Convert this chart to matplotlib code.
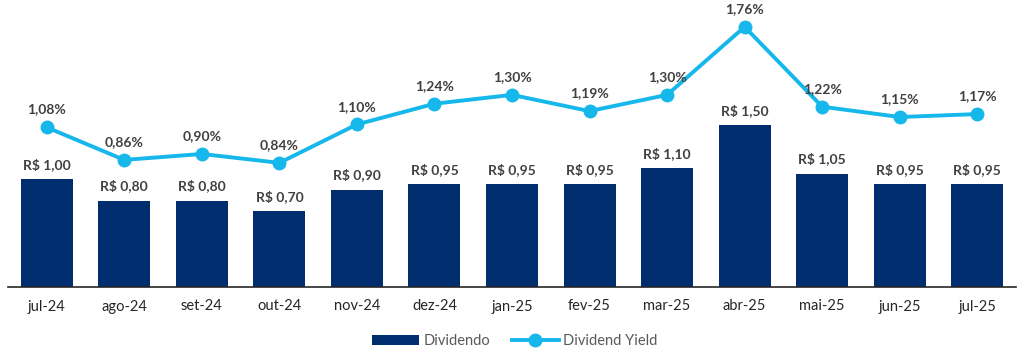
import matplotlib.pyplot as plt
import numpy as np

meses = ['jul-24', 'ago-24', 'set-24', 'out-24', 'nov-24', 'dez-24', 'jan-25',
         'fev-25', 'mar-25', 'abr-25', 'mai-25', 'jun-25', 'jul-25']
dividendo = [1.00, 0.80, 0.80, 0.70, 0.90, 0.95, 0.95, 0.95, 1.10, 1.50, 1.05, 0.95, 0.95]
dy = [1.08, 0.86, 0.90, 0.84, 1.10, 1.24, 1.30, 1.19, 1.30, 1.76, 1.22, 1.15, 1.17]

azul = '#002D6E'
ciano = '#16B7EA'
cinza = '#404040'

plt.rcParams['font.family'] = ['Lato', 'DejaVu Sans']

fig = plt.figure(figsize=(10.24, 3.58), dpi=100)
ax = fig.add_axes([8/1024, 71/358, 1008/1024, 282/358])
x = np.arange(len(meses))

barras = ax.bar(x, dividendo, width=0.67, color=azul, label='Dividendo', zorder=2)
ax.set_ylim(0, 2.61)
ax.set_xlim(-0.5, 12.5)
for xi, v in zip(x, dividendo):
    ax.annotate('R$ ' + f'{v:.2f}'.replace('.', ','), (xi, v), xytext=(0, 6),
                textcoords='offset points', ha='center', va='bottom',
                fontsize=10, fontweight='bold', color=cinza)

ax2 = ax.twinx()
ax2.set_ylim(0, 1.908)
linha, = ax2.plot(x, dy, color=ciano, lw=2.8, marker='o', ms=9, label='Dividend Yield', zorder=3)
for xi, v in zip(x, dy):
    ax2.annotate(f'{v:.2f}'.replace('.', ',') + '%', (xi, v), xytext=(0, 8.5),
                 textcoords='offset points', ha='center', va='bottom',
                 fontsize=10, fontweight='bold', color=cinza)

for a in (ax, ax2):
    for s in ['top', 'right', 'left']:
        a.spines[s].set_visible(False)
    a.set_yticks([])
ax2.spines['bottom'].set_visible(False)
ax.spines['bottom'].set_color('#262626')
ax.spines['bottom'].set_linewidth(1.2)

ax.set_xticks(x)
ax.set_xticklabels(meses, fontsize=10.5, color='#262626')
ax.tick_params(axis='x', length=0, pad=9)

leg = fig.legend([barras, linha], ['Dividendo', 'Dividend Yield'], loc='center',
                 bbox_to_anchor=(515/1024, 17/358), ncol=2, frameon=False,
                 fontsize=10.5, handlelength=3.2, columnspacing=1.5, handletextpad=0.3)
for t in leg.get_texts():
    t.set_color('#595959')

plt.savefig('out.png', dpi=100)
